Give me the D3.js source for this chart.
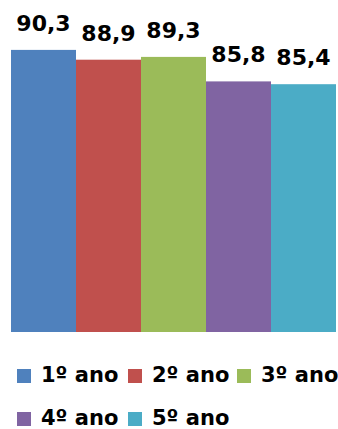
<!DOCTYPE html>
<html>
<head>
<meta charset="utf-8">
<script src="https://cdn.jsdelivr.net/npm/d3@7"></script>
<style>
  body { margin: 0; background: #fff; }
  svg { display: block; font-family: "DejaVu Sans", sans-serif; }
</style>
</head>
<body>
<svg id="chart"></svg>
<script>
// data
let categories = ['1º ano', '2º ano', '3º ano', '4º ano', '5º ano'];
let values = [90.3, 88.9, 89.3, 85.8, 85.4];
let labels = ['90,3', '88,9', '89,3', '85,8', '85,4'];
let colors = ['#4F81BD', '#C0504D', '#9BBB59', '#8064A2', '#4BACC6'];

let width = 338, height = 429;
let svg = d3.select('#chart').attr('width', width).attr('height', height);

let plot = { left: 11, right: 336, bottom: 332 };

// value axis starts at 50, as in the original chart
let x = d3.scaleBand().domain(categories).range([plot.left, plot.right]).padding(0);
let y = d3.scaleLinear().domain([50, 100]).range([plot.bottom, plot.bottom - 350]);

let rows = categories.map((c, i) => ({ cat: c, v: values[i], label: labels[i], color: colors[i] }));

svg.selectAll('.bar')
  .data(rows)
  .enter().append('rect')
  .attr('class', 'bar')
  .attr('x', d => x(d.cat))
  .attr('y', d => y(d.v))
  .attr('width', x.bandwidth())
  .attr('height', d => plot.bottom - y(d.v))
  .attr('fill', d => d.color);

svg.selectAll('.val')
  .data(rows)
  .enter().append('text')
  .attr('class', 'val')
  .attr('x', d => x(d.cat) + x.bandwidth() / 2)
  .attr('y', d => y(d.v) - 19)
  .attr('text-anchor', 'middle')
  .style('font-size', '22px')
  .style('font-weight', 700)
  .attr('fill', '#000')
  .text(d => d.label);

// legend, two rows
let legendPos = [[17, 382], [128, 382], [237, 382], [17, 425], [128, 425]];
let legend = svg.selectAll('.leg')
  .data(rows)
  .enter().append('g')
  .attr('class', 'leg')
  .attr('transform', (d, i) => 'translate(' + legendPos[i][0] + ',' + legendPos[i][1] + ')');

legend.append('rect')
  .attr('x', 0).attr('y', -13)
  .attr('width', 14).attr('height', 14)
  .attr('fill', d => d.color);

legend.append('text')
  .attr('x', 24).attr('y', 0)
  .style('font-size', '21px')
  .style('font-weight', 700)
  .attr('fill', '#000')
  .text(d => d.cat);
</script>
</body>
</html>
